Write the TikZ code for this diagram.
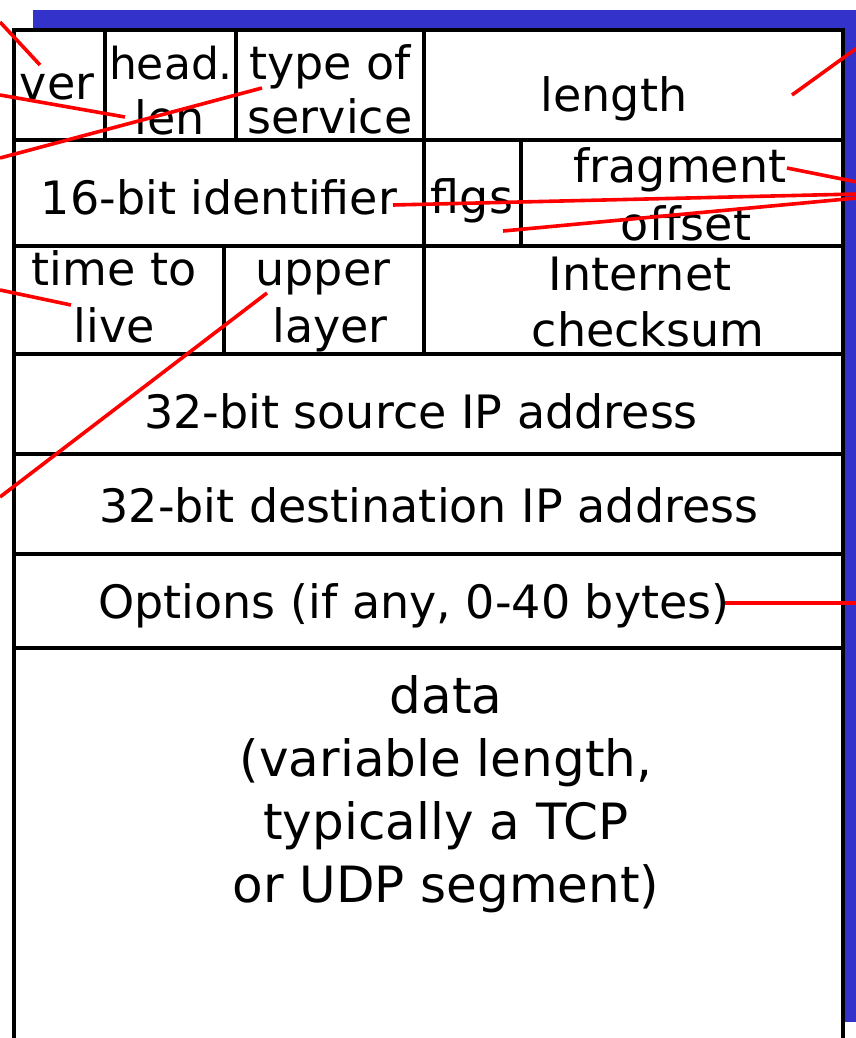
\documentclass[tikz,border=0pt]{standalone}
\usepackage{fontspec}
\setmainfont{DejaVu Sans}
\definecolor{shadowblue}{RGB}{51,51,204}
\begin{document}
\begin{tikzpicture}[x=1pt,y=-1pt,
  grid/.style={line width=3.6pt,black},
  field/.style={anchor=base,inner sep=0pt,font=\fontsize{46}{63}\selectfont},
  pointer/.style={line width=3.6pt,red}]
\useasboundingbox (0,0) rectangle (856,1038);
\clip (0,0) rectangle (856,1038);
% blue shadow panel and white datagram box
\fill[shadowblue] (33,10) rectangle (860,1022);
\fill[white] (14,30) rectangle (843,1045);
% outer frame
\draw[grid] (14,1045) -- (14,30) -- (843,30) -- (843,1045);
% row separators
\foreach \yy in {140,246,354,454,554,648}
  \draw[grid] (14,\yy) -- (843,\yy);
% column separators
\draw[grid] (105,30) -- (105,140);
\draw[grid] (236,30) -- (236,140);
\draw[grid] (424,30) -- (424,354);
\draw[grid] (521,140) -- (521,246);
\draw[grid] (224,246) -- (224,354);
% field labels
\node[field] (ver) at (57,100) {ver};
\node[field,font=\fontsize{44}{63}\selectfont] (head) at (171,80) {head.};
\node[field] (len) at (170,135) {len};
\node[field] (tos1) at (330,80) {type of};
\node[field] (tos2) at (330,133) {service};
\node[field] (length) at (614,112) {length};
\node[field] (ident) at (219,214) {16-bit identifier};
\node[field] (flgs) at (472,213) {flgs};
\node[field] (frag1) at (680,182) {fragment};
\node[field] (frag2) at (686,240) {offset};
\node[field] (ttl1) at (114,285) {time to};
\node[field] (ttl2) at (114,342) {live};
\node[field] (up1) at (323,285) {upper};
\node[field] (up2) at (330,342) {layer};
\node[field] (cks1) at (640,290) {Internet};
\node[field] (cks2) at (648,346) {checksum};
\node[field] (src) at (421,428) {32-bit source IP address};
\node[field] (dst) at (429,522) {32-bit destination IP address};
\node[field] (opt) at (414,618) {Options (if any, 0-40 bytes)};
\node[field,align=center,anchor=north,font=\fontsize{50}{63}\selectfont] (data) at (446,675)
  {data\\(variable length,\\typically a TCP\\or UDP segment)};
% pointer ends inside the fields
\coordinate (pVer) at (40,65);
\coordinate (pLen) at (125,117);
\coordinate (pTos) at (262,88);
\coordinate (pLength) at (792,95);
\coordinate (pFrag) at (787,168);
\coordinate (pIdent) at (393,205);
\coordinate (pFlgs) at (503,231);
\coordinate (pTtl) at (71,305);
\coordinate (pUp) at (267,293);
\coordinate (pOpt) at (725,603);
% pointer ends at the picture edges
\coordinate (eVer) at (0,22);
\coordinate (eLen) at (0,95);
\coordinate (eTos) at (0,158);
\coordinate (eLength) at (857,48);
\coordinate (eFrag) at (857,182);
\coordinate (eIdent) at (857,194);
\coordinate (eFlgs) at (857,198);
\coordinate (eTtl) at (0,290);
\coordinate (eUp) at (0,497);
\coordinate (eOpt) at (857,603);
% red pointers
\draw[pointer] (eVer) -- (pVer);
\draw[pointer] (eLen) -- (pLen);
\draw[pointer] (eTos) -- (pTos);
\draw[pointer] (eLength) -- (pLength);
\draw[pointer] (eFrag) -- (pFrag);
\draw[pointer] (eIdent) -- (pIdent);
\draw[pointer] (eFlgs) -- (pFlgs);
\draw[pointer] (eTtl) -- (pTtl);
\draw[pointer] (eUp) -- (pUp);
\draw[pointer] (eOpt) -- (pOpt);
\end{tikzpicture}
\end{document}
